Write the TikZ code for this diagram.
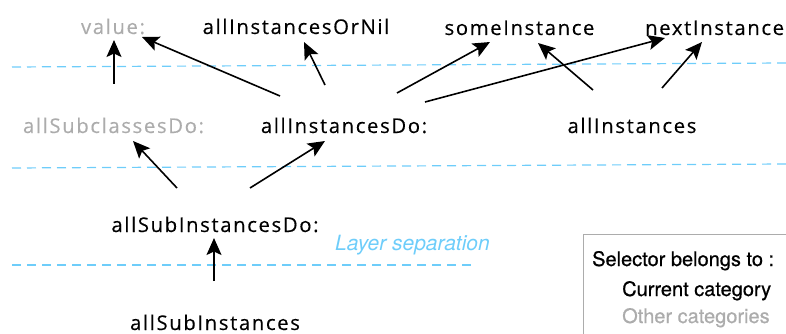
\documentclass[tikz,border=0pt]{standalone}
\usepackage{fontspec}
\setmainfont[LetterSpace=8, FakeBold=0.3]{Open Sans}
\newfontfamily\legendfont[FakeBold=0.6]{TeX Gyre Heros}
\newfontfamily\legendreg{TeX Gyre Heros}
\usetikzlibrary{arrows.meta}
\definecolor{lightgraytext}{RGB}{172,172,172}
\definecolor{sepblue}{RGB}{110,205,250}
\tikzset{
  sel/.style={inner sep=0pt, anchor=base, font=\fontsize{20.3}{24}\selectfont, text=black},
  othersel/.style={sel, text=lightgraytext},
  calls/.style={draw=black, line width=1.6pt, -{Stealth[length=17pt,width=15pt,inset=3.5pt]}},
  sepline/.style={draw=sepblue, line width=1.2pt, dash pattern=on 9pt off 6pt},
  legendtxt/.style={inner sep=0pt, anchor=base west, font=\legendfont\fontsize{20}{24}\selectfont}
}
\begin{document}
\begin{tikzpicture}[x=1pt,y=-1pt]
\useasboundingbox (0,0) rectangle (786,334);
% separators
\draw[sepline] (12,67) -- (786,63);
\draw[sepline] (12,168) -- (786,164);
\draw[sepline] (12,265) -- (473,265);
\node[inner sep=0pt, anchor=base west, text=sepblue, font=\legendreg\itshape\fontsize{21}{25}\selectfont] (sep) at (335,250) {Layer separation};
% nodes
\node[othersel] (val) at (113,34) {value:};
\node[sel] (aio) at (296,34) {allInstancesOrNil};
\node[sel] (si) at (519.5,35) {someInstance};
\node[sel, anchor=base west] (ni) at (645,35) {nextInstance};
\node[othersel] (sc) at (113.5,133) {allSubclassesDo:};
\node[sel] (aid) at (344,133) {allInstancesDo:};
\node[sel] (ai) at (632,133) {allInstances};
\node[sel] (asid) at (215,232) {allSubInstancesDo:};
\node[sel] (asi) at (215,330) {allSubInstances};
% arrows
\draw[calls] ([shift={(0.5,-49)}]sc.base) -- ([shift={(1,6)}]val.base);
\draw[calls] ([shift={(-64,-37)}]aid.base) -- ([shift={(29,3)}]val.base);
\draw[calls] ([shift={(-19,-48)}]aid.base) -- ([shift={(8,8)}]aio.base);
\draw[calls] ([shift={(53,-40)}]aid.base) -- ([shift={(-29.5,7)}]si.base);
\draw[calls] ([shift={(81,-31)}]aid.base) -- ([shift={(20,3)}]ni.base west);
\draw[calls] ([shift={(-39,-43)}]ai.base) -- ([shift={(18.5,8)}]si.base);
\draw[calls] ([shift={(30,-45)}]ai.base) -- ([shift={(57,7)}]ni.base west);
\draw[calls] ([shift={(-38,-44)}]asid.base) -- ([shift={(19.5,8)}]sc.base);
\draw[calls] ([shift={(35,-44)}]asid.base) -- ([shift={(-19,8)}]aid.base);
\draw[calls] ([shift={(-1,-49)}]asi.base) -- ([shift={(-1,6)}]asid.base);
% legend
\draw[draw=lightgraytext, line width=1pt] (800,234) -- (583.5,234) -- (583.5,340);
\node[legendtxt] (lg1) at (592,266) {Selector belongs to :};
\node[legendtxt] (lg2) at (622,296) {Current category};
\node[legendtxt, text=lightgraytext] (lg3) at (622,323) {Other categories};
\end{tikzpicture}
\end{document}
